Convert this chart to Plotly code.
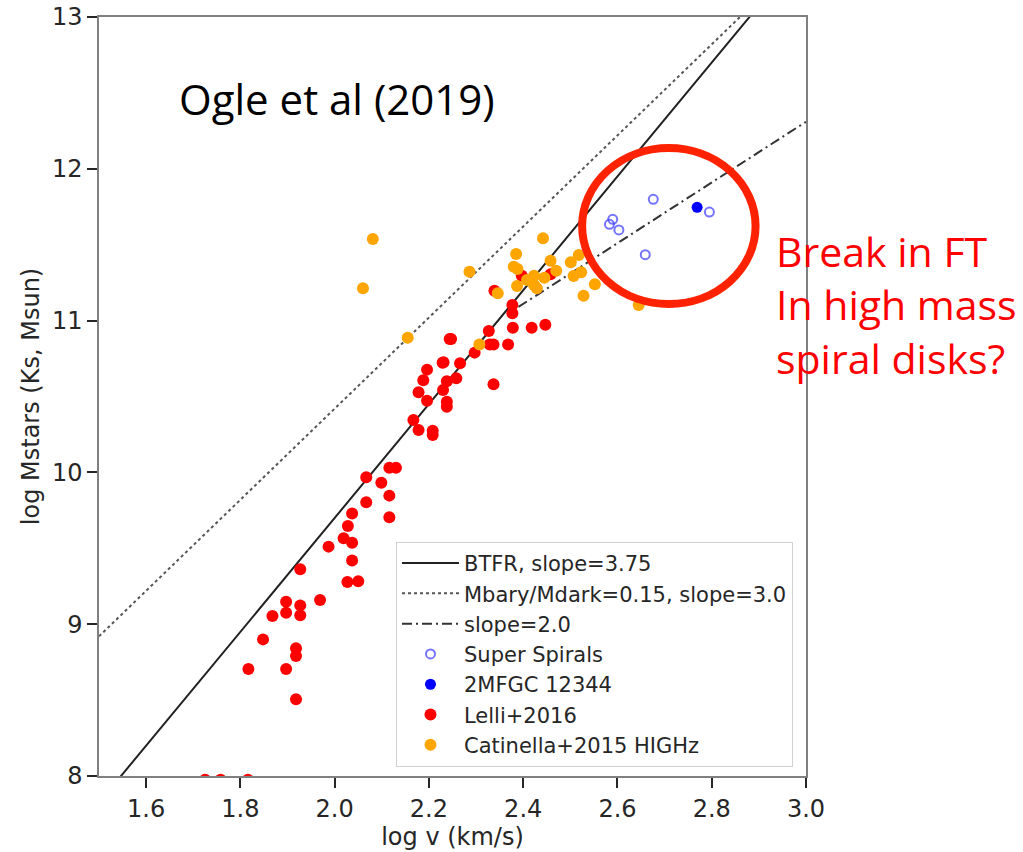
import numpy as np
import plotly.graph_objects as go

# ---- data ----
super_x = [2.676, 2.795, 2.590, 2.583, 2.603, 2.659]
super_y = [11.799, 11.715, 11.667, 11.634, 11.597, 11.434]

mfgc_x = [2.769]
mfgc_y = [11.746]

lelli_x = [2.244, 2.229, 2.196, 2.188, 2.238, 2.397, 2.458, 2.339, 2.377, 2.377,
           2.378, 2.418, 2.447, 2.327, 2.247, 2.329, 2.337, 2.368, 2.297, 2.231,
           2.266, 2.258, 2.337, 2.178, 2.230, 2.196, 2.238, 2.238, 2.167, 2.178,
           2.208, 2.208, 2.116, 2.130, 2.067, 2.099, 2.116, 2.067, 2.037, 2.116,
           2.028, 2.019, 2.037, 1.987, 2.037, 1.927, 2.027, 2.050, 1.969, 1.897,
           1.927, 1.897, 1.927, 1.868, 1.848, 1.918, 1.918, 1.817, 1.897, 1.918,
           1.725, 1.758, 1.816]
lelli_y = [10.879, 10.723, 10.677, 10.607, 10.600, 11.296, 11.305, 11.197, 11.103, 11.048,
           10.953, 10.953, 10.973, 10.931, 10.879, 10.843, 10.843, 10.843, 10.789, 10.725,
           10.719, 10.620, 10.580, 10.528, 10.543, 10.472, 10.466, 10.433, 10.345, 10.279,
           10.275, 10.246, 10.031, 10.031, 9.968, 9.932, 9.847, 9.803, 9.730, 9.704,
           9.647, 9.566, 9.537, 9.511, 9.420, 9.362, 9.278, 9.283, 9.159, 9.148,
           9.124, 9.076, 9.059, 9.054, 8.900, 8.841, 8.791, 8.705, 8.705, 8.505,
           7.975, 7.975, 7.975]

cat_x = [2.081, 2.060, 2.155, 2.442, 2.385, 2.458, 2.501, 2.518, 2.380, 2.388,
         2.470, 2.286, 2.408, 2.423, 2.445, 2.507, 2.523, 2.387, 2.423, 2.429,
         2.528, 2.346, 2.307, 2.552, 2.645]
cat_y = [11.538, 11.213, 10.887, 11.542, 11.439, 11.395, 11.384, 11.432, 11.355, 11.340,
         11.329, 11.322, 11.267, 11.296, 11.283, 11.294, 11.318, 11.228, 11.235, 11.213,
         11.164, 11.180, 10.843, 11.239, 11.103]

# model lines: slope and intercept of log M = slope * log v + b
btfr_slope, btfr_b = 3.75, 2.20
dark_slope, dark_b = 3.0, 4.42
brk_slope, brk_b = 2.0, 6.31
brk_start = 2.39

x_ticks = [1.6, 1.8, 2.0, 2.2, 2.4, 2.6, 2.8, 3.0]
y_ticks = [8, 9, 10, 11, 12, 13]

xs = np.linspace(1.5, 3.0, 200)
xb = np.linspace(brk_start, 3.0, 100)

TXT = "#262626"
fig = go.Figure()
fig.add_trace(go.Scatter(x=xs, y=btfr_slope * xs + btfr_b, mode="lines",
                         line=dict(color="#222222", width=2), name="BTFR, slope=3.75"))
fig.add_trace(go.Scatter(x=xs, y=dark_slope * xs + dark_b, mode="lines",
                         line=dict(color="#555555", width=2, dash="dot"),
                         name="Mbary/Mdark=0.15, slope=3.0"))
fig.add_trace(go.Scatter(x=xb, y=brk_slope * xb + brk_b, mode="lines",
                         line=dict(color="#333333", width=2, dash="10px,4px,2px,4px"),
                         name="slope=2.0"))
fig.add_trace(go.Scatter(x=super_x, y=super_y, mode="markers", name="Super Spirals",
                         marker=dict(symbol="circle-open", size=9, color="rgba(70,70,255,0.75)",
                                     line=dict(width=2))))
fig.add_trace(go.Scatter(x=mfgc_x, y=mfgc_y, mode="markers", name="2MFGC 12344",
                         marker=dict(size=11, color="#0000ff")))
fig.add_trace(go.Scatter(x=lelli_x, y=lelli_y, mode="markers", name="Lelli+2016",
                         marker=dict(size=12, color="#ff0000")))
fig.add_trace(go.Scatter(x=cat_x, y=cat_y, mode="markers", name="Catinella+2015 HIGHz",
                         marker=dict(size=12, color="#ffa500")))

axis_common = dict(showgrid=False, zeroline=False, showline=True, mirror=True,
                   linecolor="#808080", linewidth=1.5, ticks="outside", ticklen=10,
                   tickwidth=2, tickcolor=TXT, automargin=False,
                   tickfont=dict(family="DejaVu Sans", size=24, color=TXT))
fig.update_xaxes(range=[1.5, 3.0], tickvals=x_ticks, tickformat=".1f",
                 title=dict(text="log v (km/s)", standoff=4,
                            font=dict(family="DejaVu Sans", size=24, color=TXT)),
                 **axis_common)
fig.update_yaxes(range=[8, 13], tickvals=y_ticks,
                 title=dict(text="log Mstars (Ks, Msun)", standoff=6,
                            font=dict(family="DejaVu Sans", size=24, color=TXT)),
                 **axis_common)

fig.add_shape(type="circle", xref="x", yref="y", x0=2.525, x1=2.893, y0=11.109, y1=12.137,
              line=dict(color="#ff2200", width=8))

fig.add_annotation(text="Ogle et al (2019)", xref="paper", yref="paper", x=0.111, y=0.893,
                   xanchor="left", yanchor="middle", showarrow=False,
                   font=dict(family="Open Sans", size=42, color="#000000"))
fig.add_annotation(text="Break in FT<br>In high mass<br>spiral disks?", xref="paper",
                   yref="paper", x=0.955, y=0.621, xanchor="left", yanchor="middle",
                   align="left", showarrow=False,
                   font=dict(family="Open Sans", size=41, color="#ff0000"))

fig.update_layout(
    width=1023, height=852,
    margin=dict(l=99, r=217, t=17, b=76),
    plot_bgcolor="white", paper_bgcolor="white",
    legend=dict(x=0.9816, y=0.012, xanchor="right", yanchor="bottom",
                bgcolor="rgba(255,255,255,0.85)", bordercolor="#d0d0d0", borderwidth=1,
                font=dict(family="DejaVu Sans", size=21, color=TXT), itemwidth=57),
)

fig.write_html("out.html")
